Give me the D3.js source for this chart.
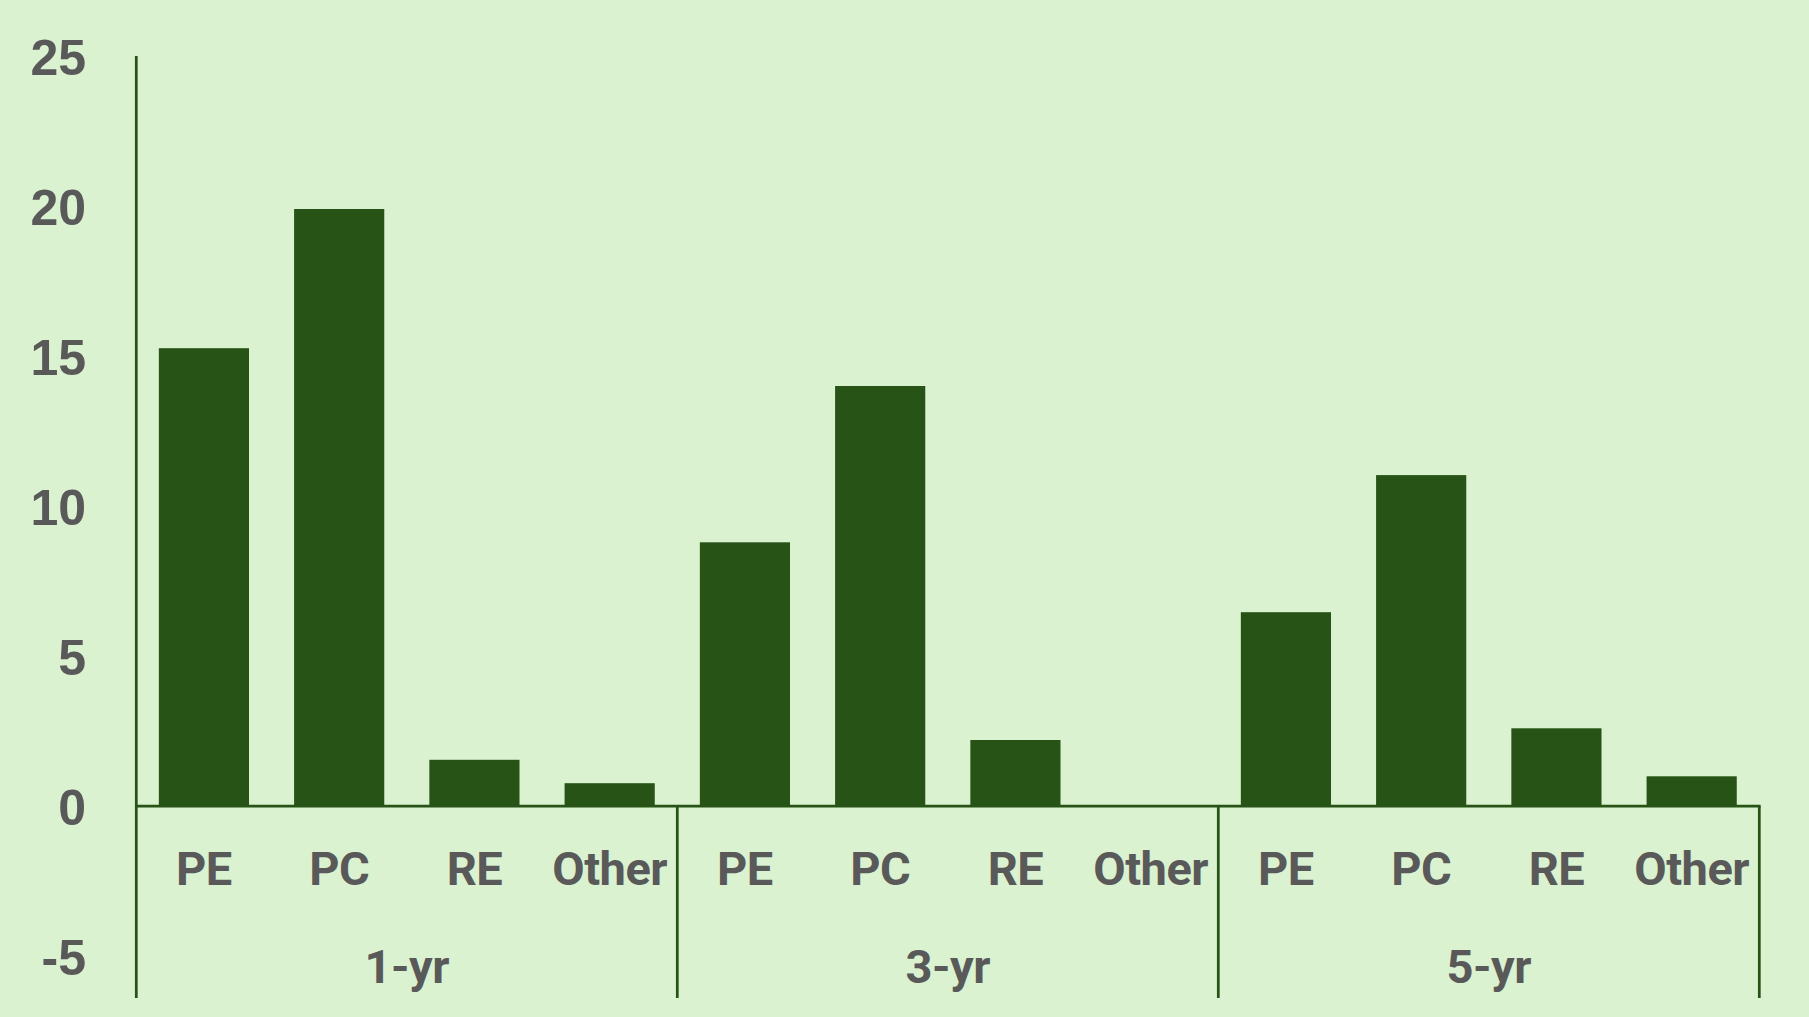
<!DOCTYPE html>
<html>
<head>
<meta charset="utf-8">
<script src="https://cdn.jsdelivr.net/npm/d3@7"></script>
<style>
  html, body { margin: 0; padding: 0; background: #DAF2D0; }
  svg { display: block; }
</style>
</head>
<body>
<svg id="chart" width="1809" height="1017"></svg>
<script>
// ---- data ----
const groups = ["1-yr", "3-yr", "5-yr"];
const categories = ["PE", "PC", "RE", "Other"];
const values1yr = [15.26, 19.9, 1.54, 0.76];
const values3yr = [8.79, 14.0, 2.2, 0];
const values5yr = [6.46, 11.03, 2.59, 0.99];
const yTicks = [-5, 0, 5, 10, 15, 20, 25];
const yTickLabels = ["-5", "0", "5", "10", "15", "20", "25"];

const seriesByGroup = [values1yr, values3yr, values5yr];
const rows = [];
groups.forEach((g, gi) => categories.forEach((c, ci) => rows.push({ group: g, cat: c, value: seriesByGroup[gi][ci] })));

// ---- layout ----
const W = 1809, H = 1017;
const left = 136.3, right = 1759.3;
const yTop = 56, yBottom = 956, axisBottom = 998;
const barColor = "#275317";
const textColor = "#595959";

const svg = d3.select("#chart");
svg.append("rect").attr("width", W).attr("height", H).attr("fill", "#DAF2D0");

const y = d3.scaleLinear().domain([-5, 25]).range([yBottom, yTop]);
const x0 = d3.scaleBand().domain(groups).range([left, right]).padding(0);
const x1 = d3.scaleBand().domain(categories).range([0, x0.bandwidth()])
  .paddingInner(1 / 3).paddingOuter(1 / 6);

// bars
svg.append("g").selectAll("rect").data(rows).join("rect")
  .attr("x", d => x0(d.group) + x1(d.cat))
  .attr("width", x1.bandwidth())
  .attr("y", d => y(Math.max(0, d.value)))
  .attr("height", d => Math.abs(y(d.value) - y(0)))
  .attr("fill", barColor);

// y axis labels
const yAxis = d3.axisLeft(y).tickValues(yTicks).tickSize(0).tickPadding(0)
  .tickFormat((d, i) => yTickLabels[i]);
const gy = svg.append("g").attr("transform", "translate(86,0)").call(yAxis);
gy.select(".domain").remove();
gy.selectAll("text")
  .attr("fill", textColor)
  .attr("font-family", "'Liberation Sans', Arial, sans-serif")
  .attr("font-weight", "bold")
  .attr("font-size", 50)
  .attr("dy", "0.36em");

// axis lines
const y0 = y(0);
svg.append("line").attr("x1", left).attr("x2", left).attr("y1", yTop).attr("y2", axisBottom)
  .attr("stroke", barColor).attr("stroke-width", 2.75);
svg.append("line").attr("x1", left).attr("x2", right + 1.3).attr("y1", y0).attr("y2", y0)
  .attr("stroke", barColor).attr("stroke-width", 2.75);
// group dividers
const dividers = groups.map(g => x0(g) + x0.bandwidth());
svg.append("g").selectAll("line").data(dividers).join("line")
  .attr("x1", d => d).attr("x2", d => d)
  .attr("y1", y0).attr("y2", axisBottom)
  .attr("stroke", barColor).attr("stroke-width", 2.75);

// category labels
svg.append("g").selectAll("text").data(rows).join("text")
  .attr("x", d => x0(d.group) + x1(d.cat) + x1.bandwidth() / 2)
  .attr("y", 868)
  .attr("dy", "0.355em")
  .attr("text-anchor", "middle")
  .attr("fill", textColor)
  .attr("font-family", "Roboto, sans-serif")
  .attr("font-weight", "bold")
  .attr("font-size", 47)
  .attr("letter-spacing", "-0.5px")
  .text(d => d.cat);

// group labels
svg.append("g").selectAll("text").data(groups).join("text")
  .attr("x", d => x0(d) + x0.bandwidth() / 2)
  .attr("y", 966)
  .attr("dy", "0.355em")
  .attr("text-anchor", "middle")
  .attr("fill", textColor)
  .attr("font-family", "Roboto, sans-serif")
  .attr("font-weight", "bold")
  .attr("font-size", 47)
  .attr("letter-spacing", "-0.5px")
  .text(d => d);
</script>
</body>
</html>
